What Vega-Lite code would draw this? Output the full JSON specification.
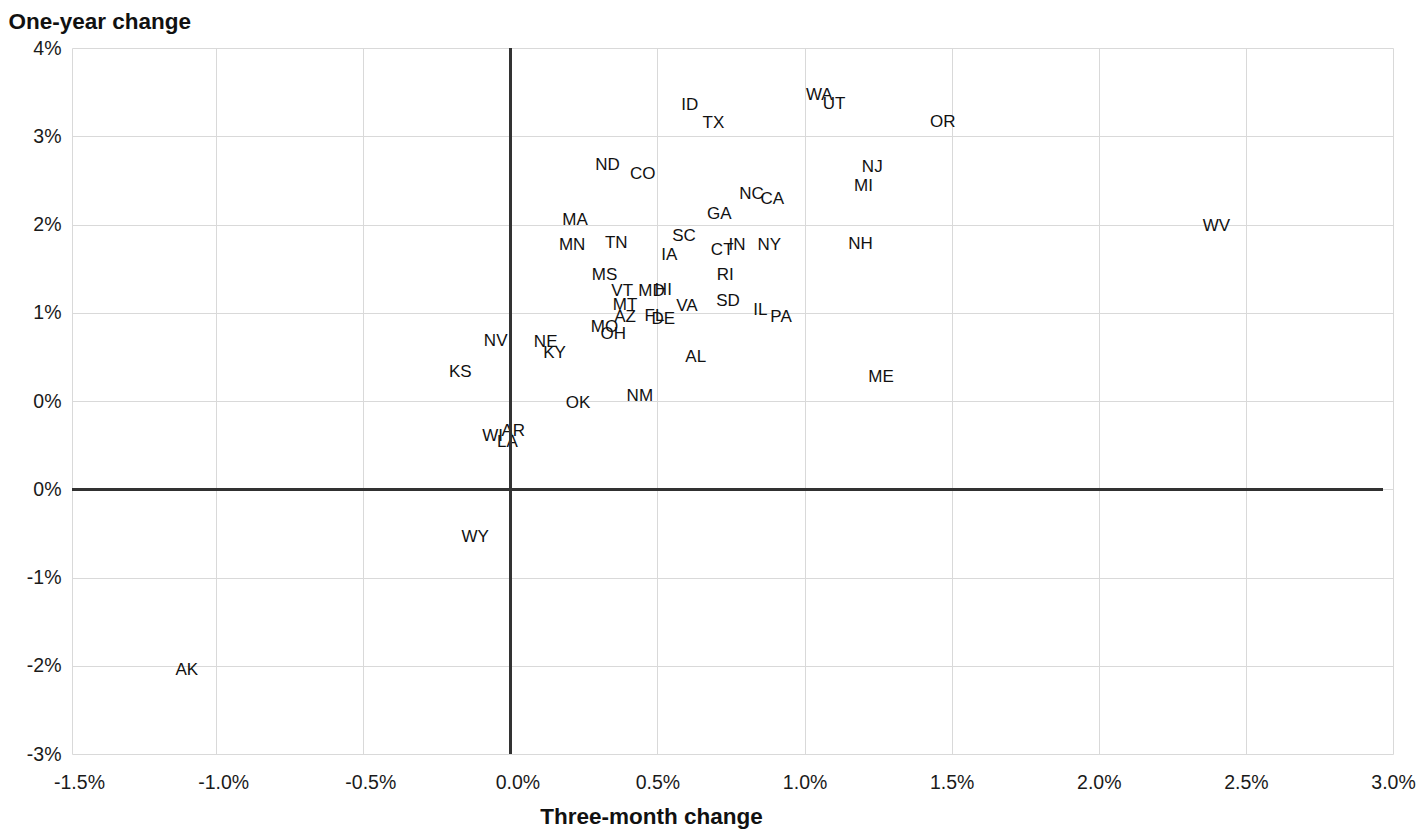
{
  "$schema": "https://vega.github.io/schema/vega-lite/v6.json",
  "width": 1321,
  "height": 706,
  "autosize": {"type": "none"},
  "padding": {"left": 72, "top": 48, "right": 31, "bottom": 75},
  "background": "white",
  "config": {"view": {"stroke": null}, "font": "Liberation Sans"},
  "data": {"values": [
    {"state": "ID", "three_month": 0.61, "one_year": 4.37},
    {"state": "TX", "three_month": 0.69, "one_year": 4.17},
    {"state": "WA", "three_month": 1.05, "one_year": 4.49},
    {"state": "UT", "three_month": 1.10, "one_year": 4.38},
    {"state": "OR", "three_month": 1.47, "one_year": 4.18},
    {"state": "NJ", "three_month": 1.23, "one_year": 3.67},
    {"state": "MI", "three_month": 1.20, "one_year": 3.45},
    {"state": "NC", "three_month": 0.82, "one_year": 3.36},
    {"state": "CA", "three_month": 0.89, "one_year": 3.31},
    {"state": "GA", "three_month": 0.71, "one_year": 3.14},
    {"state": "ND", "three_month": 0.33, "one_year": 3.69},
    {"state": "CO", "three_month": 0.45, "one_year": 3.59},
    {"state": "MA", "three_month": 0.22, "one_year": 3.07},
    {"state": "MN", "three_month": 0.21, "one_year": 2.79},
    {"state": "TN", "three_month": 0.36, "one_year": 2.81},
    {"state": "SC", "three_month": 0.59, "one_year": 2.89},
    {"state": "IA", "three_month": 0.54, "one_year": 2.67},
    {"state": "CT", "three_month": 0.72, "one_year": 2.73},
    {"state": "IN", "three_month": 0.77, "one_year": 2.78},
    {"state": "NY", "three_month": 0.88, "one_year": 2.78},
    {"state": "RI", "three_month": 0.73, "one_year": 2.45},
    {"state": "MS", "three_month": 0.32, "one_year": 2.44},
    {"state": "VT", "three_month": 0.38, "one_year": 2.26},
    {"state": "MD", "three_month": 0.48, "one_year": 2.26},
    {"state": "HI", "three_month": 0.52, "one_year": 2.28},
    {"state": "MT", "three_month": 0.39, "one_year": 2.11},
    {"state": "AZ", "three_month": 0.39, "one_year": 1.97},
    {"state": "FL", "three_month": 0.49, "one_year": 1.98},
    {"state": "DE", "three_month": 0.52, "one_year": 1.95},
    {"state": "VA", "three_month": 0.60, "one_year": 2.09},
    {"state": "SD", "three_month": 0.74, "one_year": 2.15},
    {"state": "IL", "three_month": 0.85, "one_year": 2.05},
    {"state": "PA", "three_month": 0.92, "one_year": 1.97},
    {"state": "MO", "three_month": 0.32, "one_year": 1.86},
    {"state": "OH", "three_month": 0.35, "one_year": 1.78},
    {"state": "NE", "three_month": 0.12, "one_year": 1.69},
    {"state": "KY", "three_month": 0.15, "one_year": 1.56},
    {"state": "NV", "three_month": -0.05, "one_year": 1.70},
    {"state": "KS", "three_month": -0.17, "one_year": 1.35},
    {"state": "OK", "three_month": 0.23, "one_year": 0.99},
    {"state": "NM", "three_month": 0.44, "one_year": 1.07},
    {"state": "AL", "three_month": 0.63, "one_year": 1.51},
    {"state": "AR", "three_month": 0.01, "one_year": 0.68},
    {"state": "WI", "three_month": -0.06, "one_year": 0.62},
    {"state": "LA", "three_month": -0.01, "one_year": 0.55},
    {"state": "NH", "three_month": 1.19, "one_year": 2.80},
    {"state": "ME", "three_month": 1.26, "one_year": 1.29},
    {"state": "WV", "three_month": 2.40, "one_year": 3.00},
    {"state": "WY", "three_month": -0.12, "one_year": -0.52},
    {"state": "AK", "three_month": -1.10, "one_year": -2.03}
  ]},
  "layer": [
    {
      "mark": {"type": "text", "fontSize": 17, "font": "Liberation Sans", "color": "#111111", "align": "center", "baseline": "middle", "dy": 1.5},
      "encoding": {
        "x": {
          "field": "three_month", "type": "quantitative",
          "scale": {"domain": [-1.49, 3.0], "nice": false, "zero": false},
          "axis": {
            "values": [-1.49, -1, -0.5, 0, 0.5, 1, 1.5, 2, 2.5, 3],
            "labelExpr": "datum.value < -1.4 ? '-1.5%' : (datum.value < 0 ? '-' : '') + format(abs(datum.value), '.1f') + '%'",
            "grid": true, "gridColor": "#d9d9d9", "gridWidth": 1,
            "ticks": false, "tickSize": 0, "domain": false,
            "labelFlush": false, "labelOverlap": false,
            "labelFont": "Liberation Sans", "labelFontSize": 19.5, "labelColor": "#1a1a1a",
            "labelBaseline": "middle", "labelPadding": 28,
            "labelOffset": {"condition": {"test": "datum.value <= 0", "value": 7}, "value": 0},
            "title": "Three-month change",
            "titleFont": "Liberation Sans", "titleFontSize": 22.5, "titleFontWeight": "bold", "titleColor": "#111111",
            "titleAlign": "center", "titleBaseline": "middle", "titleX": 579, "titleY": 62
          }
        },
        "y": {
          "field": "one_year", "type": "quantitative",
          "scale": {"domain": [-3, 5], "nice": false, "zero": false},
          "axis": {
            "values": [-3, -2, -1, 0, 1, 2, 3, 4, 5],
            "labelExpr": "datum.value <= 0 ? datum.value + '%' : (datum.value - 1) + '%'",
            "grid": true, "gridColor": "#d9d9d9", "gridWidth": 1,
            "ticks": false, "tickSize": 0, "domain": false,
            "labelFlush": false, "labelOverlap": false,
            "labelFont": "Liberation Sans", "labelFontSize": 19.5, "labelColor": "#1a1a1a",
            "labelPadding": 11,
            "title": "One-year change",
            "titleFont": "Liberation Sans", "titleFontSize": 22.5, "titleFontWeight": "bold", "titleColor": "#111111",
            "titleAngle": 0, "titleAlign": "left", "titleBaseline": "middle", "titleX": -64, "titleY": -27
          }
        },
        "text": {"field": "state", "type": "nominal"}
      }
    },
    {
      "mark": {"type": "rule", "color": "#333333", "strokeWidth": 2},
      "encoding": {"x": {"datum": 0, "type": "quantitative"}}
    },
    {
      "mark": {"type": "rule", "color": "#333333", "strokeWidth": 2},
      "encoding": {
        "y": {"datum": 0, "type": "quantitative"},
        "x": {"datum": -1.49, "type": "quantitative"},
        "x2": {"datum": 2.964}
      }
    }
  ]
}
